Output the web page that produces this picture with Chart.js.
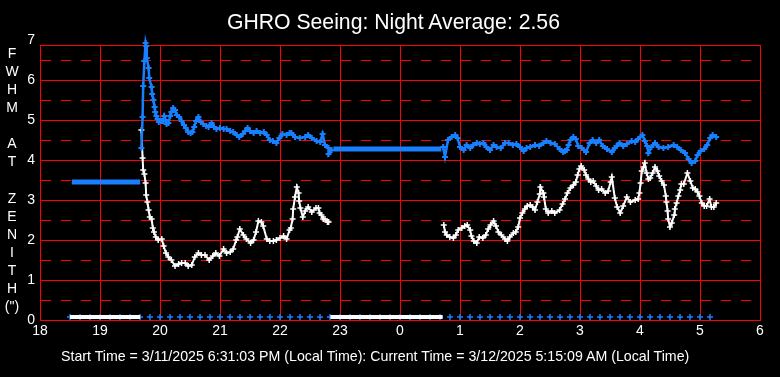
<!DOCTYPE html>
<html>
<head>
<meta charset="utf-8">
<script src="https://cdn.jsdelivr.net/npm/chart.js@4.4.1/dist/chart.umd.min.js"></script>
<style>
html,body{margin:0;padding:0;background:#000;}
#wrap{position:relative;width:780px;height:377px;background:#000;overflow:hidden;}
#c{position:absolute;left:0;top:0;}
.txt{position:absolute;color:#fff;font-family:"Liberation Sans",Arial,sans-serif;white-space:nowrap;}
#title{left:227px;top:10px;font-size:21.2px;line-height:24px;}
#foot{left:61px;top:348px;font-size:14.2px;line-height:16px;}
#ylab{left:0;top:44px;width:24px;text-align:center;font-size:14px;}
#ylab div{height:18.07px;line-height:18.07px;}
</style>
</head>
<body>
<div id="wrap">
<canvas id="c" width="780" height="377"></canvas>
<div class="txt" id="title">GHRO Seeing: Night Average: 2.56</div>
<div class="txt" id="ylab"></div>
<div class="txt" id="foot">Start Time = 3/11/2025 6:31:03 PM (Local Time): Current Time = 3/12/2025 5:15:09 AM (Local Time)</div>
</div>
<script>
// ---- Data (x = hours since 18:00 base, continuing past midnight as 24+) ----
const xTickValues = [18,19,20,21,22,23,24,25,26,27,28,29,30];
const xTickLabels = ['18','19','20','21','22','23','0','1','2','3','4','5','6'];
const yTickValues = [0,0.5,1,1.5,2,2.5,3,3.5,4,4.5,5,5.5,6,6.5,7];
const yAxisLetters = ['F','W','H','M','\u00a0','A','T','\u00a0','Z','E','N','I','T','H','(")'];

// Blue (averaged FWHM) readings; null = gap in readings
const blueT = [19.69,19.71,19.72,19.74,19.76,19.77,19.78,19.81,19.82,19.86,19.87,19.89,19.91,19.92,19.94,19.96,19.98,
 20.02,20.05,20.07,20.09,20.11,20.14,20.17,20.19,20.22,20.25,20.28,20.32,20.36,20.4,20.43,20.47,20.51,20.54,20.57,20.6,20.64,20.68,20.72,20.77,20.81,20.86,20.9,20.94,
 21.0,21.06,21.11,21.17,21.22,21.28,21.32,21.38,21.42,21.46,21.5,21.56,21.61,21.67,21.73,21.78,21.83,21.88,21.94,21.99,
 22.04,22.11,22.16,22.19,22.25,22.33,22.42,22.47,22.53,22.61,22.67,22.71,22.75,22.81,22.81,22.86,null,
 24.72,24.75,24.8,24.86,24.92,24.96,25.0,25.06,25.11,25.17,25.22,25.28,25.33,25.39,25.44,25.5,25.56,25.61,25.68,25.75,25.81,25.88,25.94,
 26.0,26.06,26.11,26.17,26.25,26.32,26.39,26.44,26.51,26.58,26.66,26.72,26.75,26.78,26.81,26.84,26.89,26.93,26.97,
 27.03,27.1,27.16,27.21,27.27,27.32,27.38,27.45,27.53,27.58,27.61,27.66,27.72,27.78,27.86,27.92,27.97,
 28.04,28.08,28.12,28.14,28.19,28.25,28.31,28.39,28.47,28.56,28.62,28.68,28.75,28.81,28.86,28.92,28.96,
 29.01,29.07,29.12,29.17,29.21,29.27];
const blueV = [4.29,5.07,5.85,6.48,6.93,6.85,6.54,6.29,6.04,5.82,5.65,5.5,5.32,5.21,5.1,5.02,4.96,
 4.98,4.98,5.1,5.0,4.9,4.93,5.1,5.21,5.29,5.25,5.12,5.07,4.98,4.88,4.79,4.71,4.68,4.71,4.82,4.98,5.07,4.96,4.9,4.85,4.83,4.93,4.82,4.77,
 4.79,4.77,4.78,4.73,4.71,4.62,4.58,4.65,4.73,4.79,4.73,4.68,4.73,4.68,4.69,4.62,4.5,4.48,4.43,4.55,
 4.65,4.62,4.67,4.68,4.58,4.54,4.58,4.63,4.54,4.48,4.46,4.65,4.38,4.29,4.15,4.25,null,
 4.33,4.08,4.5,4.58,4.63,4.54,4.33,4.25,4.38,4.29,4.38,4.42,4.4,4.43,4.33,4.25,4.38,4.32,4.29,4.43,4.42,4.38,4.4,
 4.32,4.23,4.29,4.33,4.38,4.35,4.42,4.48,4.43,4.4,4.27,4.21,4.23,4.25,4.38,4.5,4.58,4.52,4.35,
 4.3,4.19,4.42,4.5,4.43,4.49,4.36,4.28,4.2,4.29,4.35,4.43,4.35,4.4,4.48,4.46,4.52,
 4.63,4.48,4.35,4.17,4.32,4.43,4.32,4.29,4.32,4.38,4.32,4.25,4.17,4.02,3.93,3.98,4.13,
 4.23,4.27,4.38,4.54,4.63,4.57];

// Blue held (flat) stretches while no new readings: start/end pairs, null = break
const blueFlatT = [18.53,19.67,null,22.89,24.69];
const blueFlatV = [3.44,3.44,null,4.27,4.27];

// White (raw FWHM) readings; null = gap in readings
const whiteT = [19.69,19.71,19.72,19.74,19.76,19.77,19.79,19.81,19.83,19.86,19.88,19.9,19.93,19.97,
 20.03,20.06,20.1,20.14,20.19,20.25,20.31,20.36,20.42,20.47,20.53,20.58,20.64,20.69,20.75,20.82,20.88,20.93,20.99,
 21.06,21.11,21.17,21.22,21.27,21.29,21.33,21.39,21.44,21.51,21.56,21.6,21.64,21.69,21.72,21.78,21.83,21.89,21.94,
 22.0,22.06,22.11,22.16,22.18,22.21,22.22,22.25,22.28,22.31,22.32,22.34,22.38,22.42,22.47,22.53,22.6,22.64,22.66,22.69,22.72,22.75,22.79,22.81,null,
 24.73,24.75,24.78,24.83,24.89,24.93,24.97,25.03,25.08,25.12,25.17,25.19,25.23,25.28,25.32,25.38,25.43,25.47,25.51,25.56,25.6,25.64,25.69,25.75,25.79,25.83,25.89,25.93,25.97,
 26.0,26.04,26.08,26.12,26.17,26.21,26.25,26.29,26.33,26.34,26.39,26.4,26.43,26.47,26.53,26.58,26.66,26.71,26.75,26.79,26.84,26.89,26.93,26.96,26.99,
 27.02,27.07,27.1,27.14,27.18,27.22,27.27,27.31,27.36,27.42,27.47,27.51,27.53,27.58,27.62,27.67,27.72,27.78,27.84,27.92,27.97,27.99,
 28.01,28.03,28.06,28.08,28.11,28.14,28.17,28.21,28.25,28.29,28.32,28.36,28.4,28.43,28.44,28.46,28.47,28.5,28.53,28.57,28.58,28.61,28.64,28.67,28.69,28.73,28.79,28.84,28.88,28.92,28.96,28.99,
 29.03,29.07,29.11,29.16,29.19,29.23,29.27];
const whiteV = [4.75,4.04,3.75,3.65,3.42,3.13,2.96,2.75,2.57,2.52,2.29,2.21,2.07,2.0,
 2.02,1.85,1.67,1.58,1.5,1.35,1.4,1.43,1.43,1.35,1.38,1.58,1.68,1.63,1.63,1.5,1.6,1.68,1.6,
 1.77,1.67,1.71,1.77,2.0,2.08,2.27,2.13,2.02,1.92,2.0,2.21,2.48,2.46,2.35,2.02,1.98,1.98,2.0,
 2.04,2.1,2.02,2.25,2.29,2.52,2.77,3.08,3.33,3.18,2.98,2.79,2.57,2.72,2.83,2.69,2.79,2.79,2.67,2.63,2.52,2.52,2.46,2.46,null,
 2.38,2.21,2.13,2.07,2.04,2.13,2.25,2.29,2.35,2.38,2.25,2.1,1.98,1.93,2.08,2.04,2.13,2.27,2.38,2.48,2.35,2.21,2.13,2.02,1.98,2.08,2.17,2.21,2.33,
 2.54,2.67,2.77,2.85,2.88,2.82,2.75,2.96,3.15,3.33,3.18,3.07,2.77,2.67,2.73,2.68,2.76,2.9,3.02,3.18,3.3,3.37,3.45,3.63,3.77,
 3.85,3.75,3.62,3.53,3.45,3.48,3.35,3.24,3.28,3.17,3.22,3.46,3.57,3.04,2.82,2.68,2.85,3.07,2.96,3.0,3.02,3.18,
 3.43,3.73,3.83,3.93,3.67,3.52,3.54,3.67,3.83,3.73,3.6,3.48,3.38,3.1,2.96,2.73,2.52,2.32,2.42,2.63,2.77,2.93,3.1,3.25,3.4,3.4,3.68,3.48,3.29,3.27,3.21,3.1,
 2.93,2.85,2.85,3.02,2.82,2.82,2.93];

// White zero-value stretches (no raw reading), drawn at the floor
const whiteZeroT = [18.5,19.67,null,22.84,24.71];
const whiteZeroV = [0.08,0.08,null,0.08,0.08];

// Sample markers along the floor (every 10 minutes)
const markT = [18.5,18.667,18.833,19,19.167,19.333,19.5,19.667,19.833,20,20.167,20.333,20.5,20.667,20.833,
 21,21.167,21.333,21.5,21.667,21.833,22,22.167,22.333,22.5,22.667,22.833,23,23.167,23.333,23.5,23.667,23.833,
 24,24.167,24.333,24.5,24.667,24.833,25,25.167,25.333,25.5,25.667,25.833,26,26.167,26.333,26.5,26.667,26.833,
 27,27.167,27.333,27.5,27.667,27.833,28,28.167,28.333,28.5,28.667,28.833,29,29.167];
const markV = [0.08,0.08,0.08,0.08,0.08,0.08,0.08,0.08,0.08,0.08,0.08,0.08,0.08,0.08,0.08,
 0.08,0.08,0.08,0.08,0.08,0.08,0.08,0.08,0.08,0.08,0.08,0.08,0.08,0.08,0.08,0.08,0.08,0.08,
 0.08,0.08,0.08,0.08,0.08,0.08,0.08,0.08,0.08,0.08,0.08,0.08,0.08,0.08,0.08,0.08,0.08,0.08,
 0.08,0.08,0.08,0.08,0.08,0.08,0.08,0.08,0.08,0.08,0.08,0.08,0.08,0.08];

// ---- Build ----
const ylab = document.getElementById('ylab');
yAxisLetters.forEach(l => { const d = document.createElement('div'); d.textContent = l; ylab.appendChild(d); });

const pts = (T, V) => T.map((t, i) => (t === null ? {x: null, y: null} : {x: t, y: V[i]}));
const BLUE = 'rgb(24,128,255)';
const RED = '#ff0000';

Chart.defaults.font.family = '"Liberation Sans", Arial, sans-serif';

new Chart(document.getElementById('c'), {
  type: 'scatter',
  data: {
    datasets: [
      {data: pts(blueT, blueV), pointStyle: 'cross', pointRadius: 3, pointBorderWidth: 2,
       borderColor: BLUE, backgroundColor: BLUE, showLine: true, borderWidth: 2.5, tension: 0,
       spanGaps: false, clip: false},
      {data: pts(whiteT, whiteV), pointStyle: 'cross', pointRadius: 3, pointBorderWidth: 1.5,
       borderColor: '#fff', backgroundColor: '#fff', showLine: true, borderWidth: 2, tension: 0,
       spanGaps: false, clip: false},
      {data: pts(blueFlatT, blueFlatV), showLine: true, borderWidth: 5, borderColor: BLUE,
       pointRadius: 0, spanGaps: false, clip: false},
      {data: pts(whiteZeroT, whiteZeroV), showLine: true, borderWidth: 4, borderColor: '#fff',
       pointRadius: 0, spanGaps: false, clip: false},
      {data: pts(markT, markV), pointStyle: 'cross', pointRadius: 3, pointBorderWidth: 1.5,
       borderColor: BLUE, backgroundColor: BLUE, showLine: false, clip: false}
    ]
  },
  options: {
    responsive: false,
    animation: false,
    devicePixelRatio: 1,
    events: [],
    layout: {padding: {top: 45, left: 0, right: 20, bottom: 32}},
    plugins: {legend: {display: false}, tooltip: {enabled: false}, title: {display: false}},
    scales: {
      x: {
        type: 'linear', position: 'bottom', min: 18, max: 30,
        afterBuildTicks: s => { s.ticks = xTickValues.map(v => ({value: v})); },
        afterFit: s => { s.height = 25; },
        ticks: {autoSkip: false, maxRotation: 0, color: '#fff', font: {size: 14}, padding: 3,
          callback: v => xTickLabels[xTickValues.indexOf(v)]},
        grid: {color: RED, lineWidth: 1, drawTicks: false},
        border: {color: RED, width: 1}
      },
      x2: {
        type: 'linear', position: 'top', axis: 'x',
        afterFit: s => { s.height = 0; },
        ticks: {display: false},
        grid: {display: true, drawOnChartArea: false, drawTicks: false},
        border: {display: true, color: RED, width: 1}
      },
      y: {
        type: 'linear', position: 'left', min: 0, max: 6.875, alignToPixels: true,
        afterBuildTicks: s => { s.ticks = yTickValues.map(v => ({value: v})); },
        afterFit: s => { s.width = 40; },
        ticks: {autoSkip: false, color: '#fff', font: {size: 14}, padding: 5,
          callback: v => (Number.isInteger(v) ? String(v) : '')},
        grid: {drawTicks: false, lineWidth: 1,
          color: c => (c.tick && c.tick.value > 6.9 ? 'rgba(0,0,0,0)' : RED)},
        border: {color: RED, width: 1,
          dash: c => (c.tick && c.tick.value % 1 !== 0 ? [10, 10] : [])}
      }
    }
  }
});
</script>
</body>
</html>
